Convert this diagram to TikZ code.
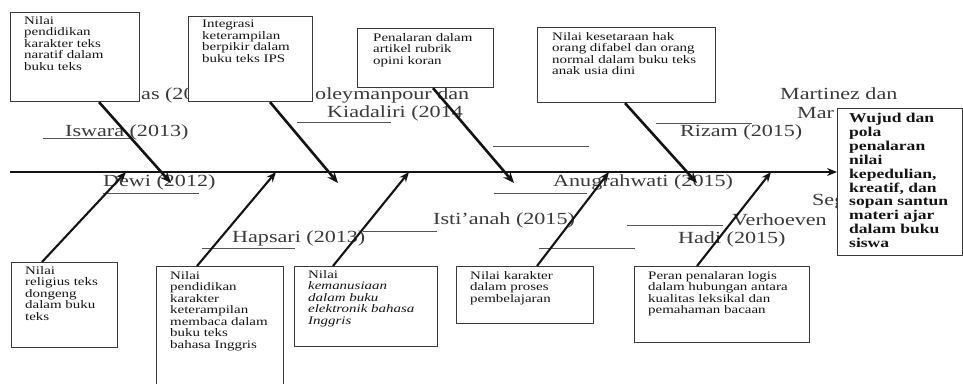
\documentclass[tikz,border=0pt]{standalone}
\usepackage{fontspec}
\setmainfont{Liberation Serif}
\newfontfamily\fishfont[FakeStretch=1.3]{Liberation Serif}
\usetikzlibrary{arrows.meta, positioning}
\definecolor{fbInk}{HTML}{141414}
\definecolor{fbGrey}{HTML}{3A3A3A}
\definecolor{fbLine}{HTML}{555555}
\tikzset{
  % one unit is one pixel of the layout, y runs downwards
  spine/.style     = {-{Stealth[length=10pt, width=8pt]}, line width=1.5pt, fbInk},
  topbone/.style   = {-{Stealth[length=11pt, width=9pt]}, line width=2.6pt, fbInk},
  botbone/.style   = {-{Stealth[length=10pt, width=8pt]}, line width=2.1pt, fbInk},
  causebox/.style  = {draw=fbGrey, line width=1.1pt, fill=white, anchor=north west,
                      inner sep=0pt},
  boxtext/.style   = {anchor=north west, inner sep=0pt, align=left, fbInk,
                      font=\fishfont\fontsize{11.5}{11.5}\selectfont},
  effecttext/.style= {anchor=north west, inner sep=0pt, align=left, fbInk,
                      font=\fishfont\bfseries\fontsize{13.5}{13.9}\selectfont},
  author/.style    = {anchor=west, inner sep=0pt, fbGrey,
                      font=\fishfont\fontsize{17}{17}\selectfont},
  uline/.style     = {fbLine, line width=1pt},
}

\begin{document}
\begin{tikzpicture}[x=1pt, y=-1pt]
  \clip (0,0) rectangle (963,383);
  \useasboundingbox (0,0) rectangle (963,383);
  % author names above the spine
  \node[author] (auAs) at (141,95) {as (20};
  \node[author] (auIswara) at (65,132) {Iswara (2013)};
  \node[author] (auSoley) at (315,95) {oleymanpour dan};
  \node[author] (auKiad) at (327,113) {Kiadaliri (2014};
  \node[author] (auMart) at (780,94) {Martinez dan};
  \node[author] (auMar) at (797,113) {Mar};
  \node[author] (auRizam) at (680,132) {Rizam (2015)};
  \draw[uline] (43,138) -- (130,138);
  \draw[uline] (297,122) -- (391,122);
  \draw[uline] (493,146) -- (589,146);
  \draw[uline] (656,123) -- (752,123);
  % author names below the spine
  \node[author] (auDewi) at (103,182) {Dewi (2012)};
  \node[author] (auHapsari) at (232,238) {Hapsari (2013)};
  \node[author] (auIsti) at (433,220) {Isti’anah (2015)};
  \node[author] (auAnug) at (553,182) {Anugrahwati (2015)};
  \node[author] (auSeg) at (812,202) {Seg};
  \node[author] (auVerh) at (732,220) {Verhoeven};
  \node[author] (auHadi) at (678,239) {Hadi (2015)};
  \draw[uline] (103,193) -- (199,193);
  \draw[uline] (202,248) -- (295,248);
  \draw[uline] (363,231) -- (437,231);
  \draw[uline] (494,193) -- (587,193);
  \draw[uline] (627,225) -- (723,225);
  \draw[uline] (539,248) -- (635,248);

  % upper cause boxes
  \node[causebox, minimum width=129pt, minimum height=89pt] (boxA) at (10,12) {};
  \node[boxtext] (txtA) at ([xshift=14pt, yshift=-4pt]boxA.north west)
    {Nilai\\pendidikan\\karakter teks\\naratif dalam\\buku teks};
  \node[causebox, minimum width=124pt, minimum height=85pt] (boxB) at (188,16) {};
  \node[boxtext] (txtB) at ([xshift=14pt, yshift=-4pt]boxB.north west)
    {Integrasi\\keterampilan\\berpikir dalam\\buku teks IPS};
  \node[causebox, minimum width=136pt, minimum height=59pt] (boxC) at (357,28) {};
  \node[boxtext] (txtC) at ([xshift=16pt, yshift=-5pt]boxC.north west)
    {Penalaran dalam\\artikel rubrik\\opini koran};
  \node[causebox, minimum width=178pt, minimum height=75pt] (boxD) at (537,27) {};
  \node[boxtext] (txtD) at ([xshift=15pt, yshift=-5pt]boxD.north west)
    {Nilai kesetaraan hak\\orang difabel dan orang\\normal dalam buku teks\\anak usia dini};

  % lower cause boxes
  \node[causebox, minimum width=106pt, minimum height=85pt] (boxE) at (11,262) {};
  \node[boxtext] (txtE) at ([xshift=14pt, yshift=-4pt]boxE.north west)
    {Nilai\\religius teks\\dongeng\\dalam buku\\teks};
  \node[causebox, minimum width=127pt, minimum height=130pt] (boxF) at (156,266) {};
  \node[boxtext] (txtF) at ([xshift=14pt, yshift=-5pt]boxF.north west)
    {Nilai\\pendidikan\\karakter\\keterampilan\\membaca dalam\\buku teks\\bahasa Inggris};
  \node[causebox, minimum width=143pt, minimum height=80pt] (boxG) at (294,266) {};
  \node[boxtext] (txtG) at ([xshift=14pt, yshift=-4pt]boxG.north west)
    {Nilai\\\itshape kemanusiaan\\\itshape dalam buku\\\itshape elektronik bahasa\\\itshape Inggris};
  \node[causebox, minimum width=137pt, minimum height=57pt] (boxH) at (456,266) {};
  \node[boxtext] (txtH) at ([xshift=14pt, yshift=-5pt]boxH.north west)
    {Nilai karakter\\dalam proses\\pembelajaran};
  \node[causebox, minimum width=175pt, minimum height=76pt] (boxI) at (634,266) {};
  \node[boxtext] (txtI) at ([xshift=14pt, yshift=-5pt]boxI.north west)
    {Peran penalaran logis\\dalam hubungan antara\\kualitas leksikal dan\\pemahaman bacaan};

  % effect
  \node[causebox, minimum width=125pt, minimum height=147pt] (effect) at (837,108) {};
  \node[effecttext] (txtEff) at ([xshift=12pt, yshift=-5pt]effect.north west)
    {Wujud dan\\pola\\penalaran\\nilai\\kepedulian,\\kreatif, dan\\sopan santun\\materi ajar\\dalam buku\\siswa};

  % spine
  \coordinate (tail) at (10,172);
  \draw[spine] (tail) -- (tail -| effect.west);

  % bones from above
  \coordinate (tipA) at (171,183);
  \coordinate (tipB) at (338,183);
  \coordinate (tipC) at (514,183);
  \coordinate (tipD) at (697,183);
  \draw[topbone] ([xshift=89pt]boxA.south west) -- (tipA);
  \draw[topbone] ([xshift=82pt]boxB.south west) -- (tipB);
  \draw[topbone] ([xshift=76pt]boxC.south west) -- (tipC);
  \draw[topbone] ([xshift=88pt]boxD.south west) -- (tipD);

  % bones from below
  \coordinate (tipE) at (126,172);
  \coordinate (tipF) at (276,172);
  \coordinate (tipG) at (409,172);
  \coordinate (tipH) at (609,172);
  \coordinate (tipI) at (771,172);
  \draw[botbone] ([xshift=31pt]boxE.north west) -- (tipE);
  \draw[botbone] ([xshift=41pt]boxF.north west) -- (tipF);
  \draw[botbone] ([xshift=39pt]boxG.north west) -- (tipG);
  \draw[botbone] ([xshift=81pt]boxH.north west) -- (tipH);
  \draw[botbone] ([xshift=63pt]boxI.north west) -- (tipI);
\end{tikzpicture}
\end{document}
